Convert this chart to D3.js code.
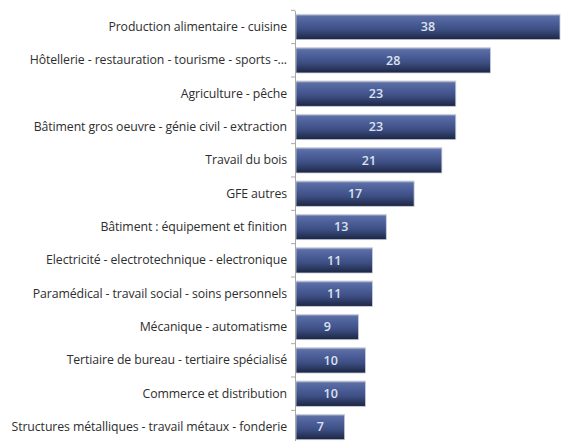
<!DOCTYPE html>
<html>
<head>
<meta charset="utf-8">
<script src="https://cdn.jsdelivr.net/npm/d3@7"></script>
<style>
  html, body { margin: 0; padding: 0; background: #fff; }
  svg { display: block; }
</style>
</head>
<body>
<svg id="chart" width="561" height="441"></svg>
<script>
// Formation categories and counts
const categories = [
  "Production alimentaire - cuisine",
  "Hôtellerie - restauration - tourisme - sports -...",
  "Agriculture - pêche",
  "Bâtiment gros oeuvre - génie civil - extraction",
  "Travail du bois",
  "GFE autres",
  "Bâtiment : équipement et finition",
  "Electricité - electrotechnique - electronique",
  "Paramédical - travail social - soins personnels",
  "Mécanique - automatisme",
  "Tertiaire de bureau - tertiaire spécialisé",
  "Commerce et distribution",
  "Structures métalliques - travail métaux - fonderie"
];
const values = [38, 28, 23, 23, 21, 17, 13, 11, 11, 9, 10, 10, 7];

const svg = d3.select("#chart");

const x = d3.scaleLinear().domain([0, 38]).range([296, 560]);
const y = d3.scaleBand().domain(categories).range([10.3, 443.7]).paddingInner(0.24).paddingOuter(0.12);

// Bar fill: light rim on top, mid blue body, dark base
const defs = svg.append("defs");
const grad = defs.append("linearGradient")
  .attr("id", "barGrad").attr("x1", 0).attr("y1", 0).attr("x2", 0).attr("y2", 1);
[
  [0, "#b7c0d8"], [0.08, "#5c6ea5"], [0.3, "#4d609a"], [0.6, "#3d4e83"],
  [0.85, "#28355b"], [1, "#1b2442"]
].forEach(([o, c]) => grad.append("stop").attr("offset", o).attr("stop-color", c));

// Bars
svg.append("g").selectAll("rect")
  .data(categories)
  .join("rect")
  .attr("x", x(0))
  .attr("y", d => y(d))
  .attr("width", (d, i) => x(values[i]) - x(0))
  .attr("height", y.bandwidth())
  .attr("fill", "url(#barGrad)")
  .attr("stroke", "#c9ced9")
  .attr("stroke-width", 0.8);

// Category axis
const axis = d3.axisLeft(y).tickSize(0).tickPadding(8);
const ag = svg.append("g").attr("transform", `translate(${x(0) - 1},0)`).call(axis);
ag.select(".domain").attr("stroke", "#a8a8a8");
ag.selectAll("text")
  .attr("font-family", "'Open Sans', sans-serif")
  .attr("font-size", 12.3)
  .attr("letter-spacing", -0.1)
  .attr("fill", "#2e2e2e");

// Boundary tick marks between categories
const step = y.step();
const bounds = d3.range(categories.length + 1).map(i => 10.3 + i * step);
ag.append("g").selectAll("line")
  .data(bounds)
  .join("line")
  .attr("x1", -4).attr("x2", 0)
  .attr("y1", d => d).attr("y2", d => d)
  .attr("stroke", "#a8a8a8");

// Value labels centered inside bars
svg.append("g").selectAll("text")
  .data(categories)
  .join("text")
  .attr("x", (d, i) => (x(0) + x(values[i])) / 2)
  .attr("y", d => y(d) + y.bandwidth() / 2)
  .attr("dy", "0.35em")
  .attr("text-anchor", "middle")
  .attr("font-family", "'Open Sans', sans-serif")
  .attr("font-size", 12.5)
  .attr("font-weight", 600)
  .attr("fill", "#dce2ef")
  .text((d, i) => values[i]);
</script>
</body>
</html>
